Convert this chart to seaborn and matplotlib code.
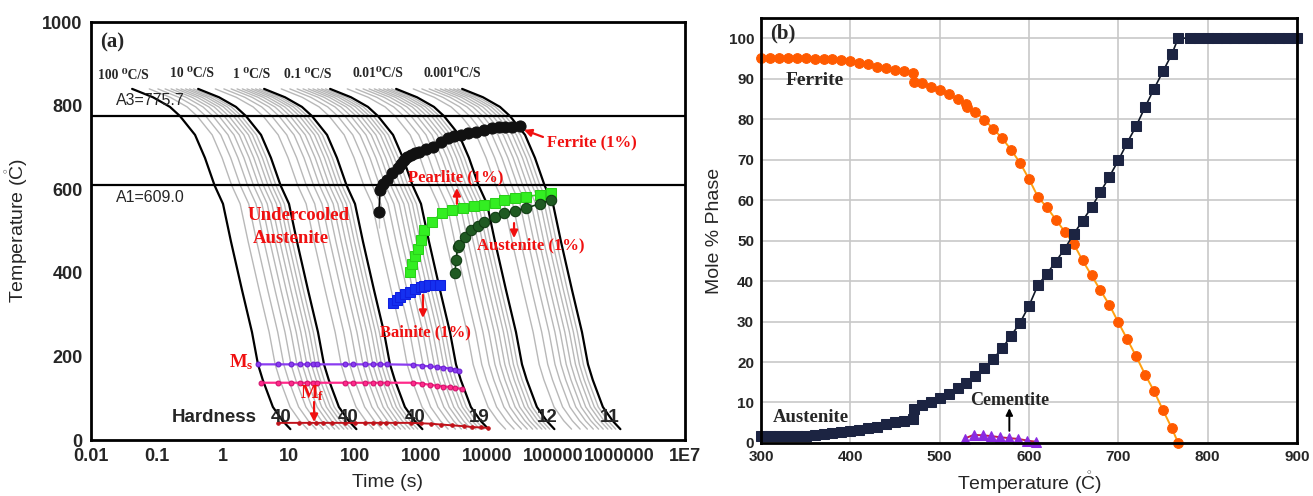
import numpy as np
import pandas as pd
import matplotlib
matplotlib.use("Agg")
import matplotlib.pyplot as plt
import seaborn as sns
from matplotlib.ticker import FixedLocator, NullFormatter, MultipleLocator, LogLocator

sns.set_theme(style="white")
plt.rcParams["font.family"] = ["Liberation Sans", "DejaVu Sans"]
plt.rcParams["mathtext.fontset"] = "custom"
plt.rcParams["mathtext.rm"] = "Liberation Serif"
plt.rcParams["mathtext.bf"] = "Liberation Serif:bold"
plt.rcParams["mathtext.sf"] = "Liberation Sans"

# ---------------- data: panel (a) CCT diagram ----------------
base_time = [0.042, 0.087, 0.157, 0.223, 0.377, 0.533, 0.746, 1.0, 1.32, 1.94, 2.75, 3.39, 4.0, 5.7, 8.0, 10.5]
base_temp = [840, 820, 797, 775, 730, 675, 609, 565, 475, 359, 258, 181, 144, 79, 46, 26]
black_shift = [0, 1, 2, 3, 4, 5]                      # decades
grey_shift = [0.26, 0.39, 0.50, 0.59, 0.67, 0.74, 0.81, 0.87, 0.93]
rate_labels = ["100 \u2070C/S", "10 \u2070C/S", "1 \u2070C/S", "0.1 \u2070C/S", "0.01\u2070C/S", "0.001\u2070C/S"]
hardness = ["40", "40", "40", "19", "12", "11"]
A3, A1 = 775.7, 609.0

ferrite_t = [231, 231, 240, 270, 305, 360, 446, 500, 550, 620, 700, 800, 930, 1200, 1510, 2000, 2570,
             3200, 4000, 5200, 6700, 9000, 12000, 15000, 18700, 24000, 31600]
ferrite_T = [507, 582, 598, 612, 622, 638, 650, 660, 670, 677, 682, 686, 690, 696, 701, 712, 722,
             727, 730, 734, 737, 742, 746, 748, 749, 750, 751]
pearlite_t = [681, 720, 800, 900, 1000, 1130, 1460, 2060, 2970, 4300, 6300, 8900, 13000, 18400, 27000, 39000, 63000, 92000]
pearlite_T = [402, 420, 440, 458, 478, 502, 522, 543, 550, 555, 559, 562, 567, 574, 578, 582, 587, 590]
austen1_t = [3270, 3400, 3580, 3720, 4600, 5700, 7300, 9000, 13000, 18400, 27000, 39000, 63000, 92000]
austen1_T = [400, 430, 462, 467, 485, 502, 513, 522, 533, 543, 549, 555, 565, 574]
bainite_t = [377, 430, 475, 570, 680, 810, 1000, 1130, 1300, 1610, 1910]
bainite_T = [327, 335, 343, 350, 355, 361, 367, 369, 371, 371, 371]

ms_t = [3.43, 6.9, 10.7, 14.7, 18.5, 23.4, 26.3, 70, 94, 141, 189, 240, 303, 764, 1025, 1380, 1740, 2190, 2760, 3270, 3800]
ms_T = [181, 181, 181, 181, 181, 181, 181, 181, 181, 181, 181, 181, 181, 180, 178, 176, 175, 173, 171, 168, 165]
mp_t = [3.77, 6.9, 10.7, 14.7, 18.5, 23.4, 26.3, 70, 94, 141, 189, 240, 303, 764, 1025, 1380, 1740, 2190, 2760, 3270, 4140]
mp_T = [137, 137, 137, 137, 137, 137, 137, 137, 137, 137, 137, 137, 137, 137, 135, 132, 130, 128, 127, 125, 122]
mf_t = [6.9, 14, 20, 26, 33, 45, 70, 100, 140, 190, 240, 300, 400, 700, 1000, 1400, 2000, 3000, 4500, 6000, 8000, 10300]
mf_T = [41, 41, 41, 41, 41, 41, 41, 41, 41, 41, 41, 41, 41, 41, 40, 39, 37, 35, 33, 31, 30, 29]

# ---------------- data: panel (b) phase fractions ----------------
fer_temp = [300, 310, 320, 330, 340, 350, 360, 370, 380, 390, 400, 410, 420, 430, 440, 450, 460, 470, 471,
            480, 490, 500, 510, 520, 530, 531, 540, 550, 560, 570, 580, 590, 600, 610, 620, 630, 640, 650,
            660, 670, 680, 690, 700, 710, 720, 730, 740, 750, 760, 767]
fer_val = [95.1, 95.1, 95.1, 95.1, 95.1, 95.0, 94.9, 94.8, 94.8, 94.5, 94.3, 93.9, 93.6, 93.0, 92.6, 92.2, 91.8, 91.3, 89.2,
           88.9, 88.0, 87.1, 86.1, 85.0, 83.8, 83.0, 81.8, 79.9, 77.6, 75.3, 72.4, 69.2, 65.2, 60.8, 58.2, 55.2, 52.2, 49.2,
           45.1, 41.4, 37.7, 34.1, 29.8, 25.6, 21.4, 16.9, 12.8, 8.1, 3.6, 0.0]
aus_temp = [300, 310, 320, 330, 340, 350, 360, 370, 380, 390, 400, 410, 420, 430, 440, 450, 460, 470, 471,
            480, 490, 500, 510, 520, 530, 540, 550, 560, 570, 580, 590, 600, 610, 620, 630, 640, 650,
            660, 670, 680, 690, 700, 710, 720, 730, 740, 750, 760, 767,
            780, 790, 800, 810, 820, 830, 840, 850, 860, 870, 880, 890, 900]
aus_val = [1.8, 1.8, 1.8, 1.8, 1.8, 1.8, 2.0, 2.2, 2.4, 2.7, 3.0, 3.3, 3.7, 4.0, 4.7, 5.1, 5.5, 5.9, 8.5,
           9.3, 10.1, 11.2, 12.2, 13.6, 14.8, 16.5, 18.5, 20.8, 23.4, 26.5, 29.7, 33.9, 39.0, 41.8, 44.8, 48.0, 51.6,
           54.9, 58.2, 62.0, 65.8, 69.8, 74.2, 78.3, 83.0, 87.5, 91.8, 96.1, 100,
           100, 100, 100, 100, 100, 100, 100, 100, 100, 100, 100, 100, 100]
cem_temp = [528, 528, 538, 548, 558, 568, 578, 588, 598, 608]
cem_val = [0.0, 2.2, 2.0, 1.9, 1.7, 1.4, 1.2, 1.0, 0.6, 0.3]

# ---------------- figure ----------------
fig = plt.figure(figsize=(13.13, 4.96), dpi=100)
ax1 = fig.add_axes([0.0693, 0.1129, 0.4524, 0.8427])
ax2 = fig.add_axes([0.5796, 0.1069, 0.4082, 0.8569])

# ---- panel (a) ----
ax1.set_xscale("log")
rows = []
cid = 0
for k in black_shift[:-1]:
    for g in grey_shift:
        for t, T in zip(base_time, base_temp):
            rows.append(("grey", cid, t * 10 ** (k + g), T))
        cid += 1
for k in black_shift:
    for t, T in zip(base_time, base_temp):
        rows.append(("black", cid, t * 10 ** k, T))
    cid += 1
cool = pd.DataFrame(rows, columns=["kind", "curve", "time", "temp"])
sns.lineplot(data=cool[cool.kind == "grey"], x="time", y="temp", units="curve", estimator=None,
             sort=False, color="#b8b8b8", lw=1.0, ax=ax1)
sns.lineplot(data=cool[cool.kind == "black"], x="time", y="temp", units="curve", estimator=None,
             sort=False, color="black", lw=1.6, ax=ax1)

ax1.axhline(A3, color="black", lw=1.6)
ax1.axhline(A1, color="black", lw=1.6)

sns.lineplot(x=ms_t, y=ms_T, sort=False, color="#8a3cf0", lw=1.6, marker="o", ms=3.5, mec="#6a1cd0", ax=ax1)
sns.lineplot(x=mp_t, y=mp_T, sort=False, color="#ff2a8a", lw=1.6, marker="o", ms=3.5, mec="#d0106a", ax=ax1)
sns.lineplot(x=mf_t, y=mf_T, sort=False, color="#c0121a", lw=1.4, marker="o", ms=2.5, mec="#c0121a", ax=ax1)

sns.lineplot(x=ferrite_t, y=ferrite_T, sort=False, color="black", lw=1.2, marker="o", ms=8,
             mec="#111111", mfc="#111111", ax=ax1)
sns.lineplot(x=pearlite_t, y=pearlite_T, sort=False, color="#33dd22", lw=1.2, marker="s", ms=7,
             mec="#2ad01a", mfc="#33ee22", ax=ax1)
sns.lineplot(x=austen1_t, y=austen1_T, sort=False, color="#0f3a12", lw=1.2, marker="o", ms=7.5,
             mec="#0f3a12", mfc="#1f5a22", ax=ax1)
sns.lineplot(x=bainite_t, y=bainite_T, sort=False, color="#1020e0", lw=1.2, marker="s", ms=7.5,
             mec="#1020e0", mfc="#1530f0", ax=ax1)

ax1.set_xlim(0.01, 1e7)
ax1.set_ylim(0, 1000)
xt = [1e-2, 1e-1, 1, 10, 100, 1e3, 1e4, 1e5, 1e6, 1e7]
ax1.xaxis.set_major_locator(FixedLocator(xt))
ax1.set_xticklabels(["0.01", "0.1", "1", "10", "100", "1000", "10000", "100000", "1000000", "1E7"])
ax1.xaxis.set_minor_locator(LogLocator(base=10, subs=np.arange(2, 10), numticks=20))
ax1.xaxis.set_minor_formatter(NullFormatter())
ax1.yaxis.set_major_locator(MultipleLocator(200))
ax1.yaxis.set_minor_locator(MultipleLocator(100))
ax1.tick_params(axis="both", which="major", direction="inout", length=8, width=1.5, color="black",
                labelsize=13, pad=2)
ax1.tick_params(axis="both", which="minor", direction="inout", length=6, width=1.2, color="black")
for lab in ax1.get_xticklabels() + ax1.get_yticklabels():
    lab.set_fontweight("bold")
for s in ax1.spines.values():
    s.set_color("black")
    s.set_linewidth(2)
ax1.set_xlabel("Time (s)", fontsize=14, labelpad=6)
ax1.set_ylabel(r"Temperature ($\mathring{\mathsf{C}}$)", fontsize=14)
ax1.yaxis.set_label_coords(-0.103, 0.5)

serif = ["Liberation Serif", "DejaVu Serif"]
ax1.text(0.0137, 952, "(a)", fontsize=15, fontweight="bold", family=serif, ha="left", va="center")
rate_pos = [(0.0306, 873), (0.339, 878), (2.75, 875), (19.4, 875), (224, 876), (2950, 878)]
for lab, (tx, ty) in zip(rate_labels, rate_pos):
    ax1.text(tx, ty, lab, fontsize=9.8, fontweight="bold", family=serif, ha="center", va="center")
ax1.text(0.024, 813, "A3=775.7", fontsize=11.5, ha="left", va="center")
ax1.text(0.024, 581, "A1=609.0", fontsize=11.5, ha="left", va="center")

red = "#f01010"
ax1.text(14.2, 538, "Undercooled", color=red, fontsize=13.5, fontweight="bold", family=serif, ha="center", va="center")
ax1.text(10.7, 483, "Austenite", color=red, fontsize=13.5, fontweight="bold", family=serif, ha="center", va="center")
arr = dict(arrowstyle="-|>", color=red, lw=1.6, mutation_scale=11, shrinkA=0, shrinkB=0)
ax1.text(81100, 711, "Ferrite (1%)", color=red, fontsize=12, fontweight="bold", family=serif, ha="left", va="center")
ax1.annotate("", xy=(36300, 742), xytext=(70500, 725), arrowprops=arr)
ax1.text(3390, 629, "Pearlite (1%)", color=red, fontsize=12, fontweight="bold", family=serif, ha="center", va="center")
ax1.annotate("", xy=(3500, 603), xytext=(3500, 565), arrowprops=arr)
ax1.text(46400, 466, "Austenite (1%)", color=red, fontsize=12, fontweight="bold", family=serif, ha="center", va="center")
ax1.annotate("", xy=(25700, 483), xytext=(25700, 519), arrowprops=arr)
ax1.text(1150, 258, "Bainite (1%)", color=red, fontsize=12, fontweight="bold", family=serif, ha="center", va="center")
ax1.annotate("", xy=(1070, 292), xytext=(1070, 347), arrowprops=arr)
ax1.text(2.9, 187, r"$\mathbf{M_s}$", color=red, fontsize=13.5, ha="right", va="center")
ax1.text(22.2, 112, r"$\mathbf{M_f}$", color=red, fontsize=13.5, ha="center", va="center")
ax1.annotate("", xy=(24, 43), xytext=(24, 91), arrowprops=arr)

ax1.text(0.73, 55, "Hardness", fontsize=13.5, fontweight="bold", ha="center", va="center")
for lab, tx in zip(hardness, [7.6, 78, 811, 7570, 81100, 731000]):
    ax1.text(tx, 55, lab, fontsize=13.5, fontweight="bold", ha="center", va="center")

# ---- panel (b) ----
sns.lineplot(x=fer_temp, y=fer_val, sort=False, color="#ffa010", lw=1.4, marker="o", ms=7,
             mfc="#ff5a00", mec="#ff5a00", clip_on=False, ax=ax2)
sns.lineplot(x=aus_temp, y=aus_val, sort=False, color="#101828", lw=1.2, marker="s", ms=6.5,
             mfc="#1c2442", mec="#1c2442", clip_on=False, ax=ax2)
sns.lineplot(x=cem_temp, y=cem_val, sort=False, color="#c0204a", lw=1.4, marker="^", ms=7,
             mfc="#8a2be2", mec="#8a2be2", clip_on=False, ax=ax2)

ax2.set_xlim(300, 900)
ax2.set_ylim(0, 105)
ax2.xaxis.set_major_locator(MultipleLocator(100))
ax2.xaxis.set_minor_locator(MultipleLocator(50))
ax2.yaxis.set_major_locator(MultipleLocator(10))
ax2.yaxis.set_minor_locator(MultipleLocator(5))
ax2.grid(True, which="major", color="#c8c8c8", lw=1.2)
ax2.set_axisbelow(True)
narrow = ["Liberation Sans Narrow", "Liberation Sans", "DejaVu Sans"]
ax2.tick_params(axis="both", which="major", direction="inout", length=6, width=1.5, color="black",
                labelsize=11, pad=2)
ax2.tick_params(axis="both", which="minor", direction="inout", length=4, width=1.2, color="black")
for lab in ax2.get_xticklabels() + ax2.get_yticklabels():
    lab.set_fontweight("bold")
    lab.set_family(narrow)
for s in ax2.spines.values():
    s.set_color("black")
    s.set_linewidth(2)
ax2.set_xlabel(r"Temperature ($\mathring{\mathsf{C}}$)", fontsize=14, labelpad=4)
ax2.set_ylabel("Mole % Phase", fontsize=14)
ax2.yaxis.set_label_coords(-0.071, 0.5)

ax2.text(310, 101.2, "(b)", fontsize=15, fontweight="bold", family=serif, ha="left", va="center")
ax2.text(360, 89.6, "Ferrite", fontsize=14, fontweight="bold", family=serif, ha="center", va="center")
ax2.text(356, 6.4, "Austenite", fontsize=13.5, fontweight="bold", family=serif, ha="center", va="center")
ax2.text(578, 10.6, "Cementite", fontsize=13, fontweight="bold", family=serif, ha="center", va="center")
ax2.annotate("", xy=(578, 8.6), xytext=(578, 3.0),
             arrowprops=dict(arrowstyle="-|>", color="black", lw=1.4, mutation_scale=10, shrinkA=0, shrinkB=0))

fig.savefig("out.png", dpi=100)
